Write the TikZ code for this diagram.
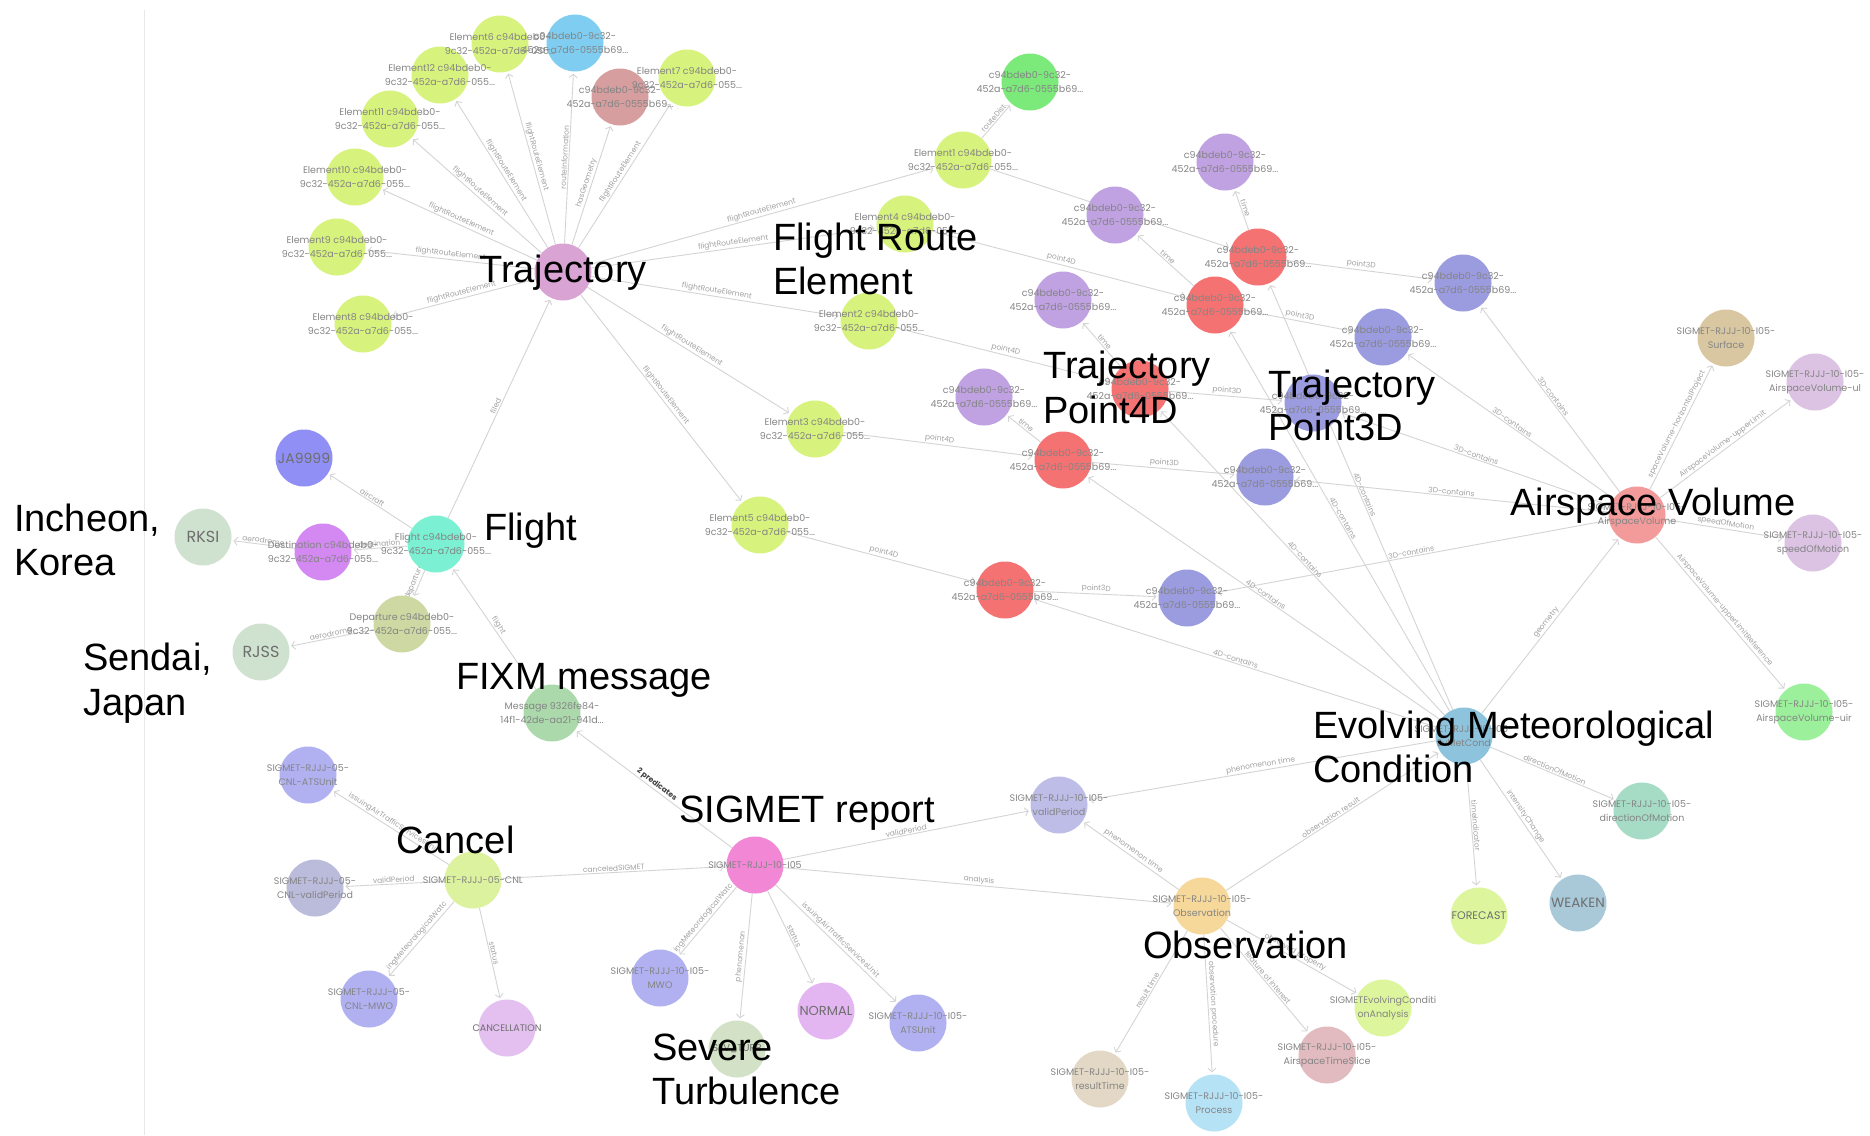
\documentclass[tikz,border=0pt]{standalone}
\usepackage{fontspec}
\setmainfont{Liberation Sans}
\newfontfamily\idfam{Poppins}
\usetikzlibrary{arrows.meta}
\pgfdeclarelayer{edges}
\pgfdeclarelayer{txt}
\pgfsetlayers{edges,main,txt}

% node fills
\definecolor{celem}{HTML}{D7F27D}
\definecolor{crinfo}{HTML}{7FCDF0}
\definecolor{cgeom}{HTML}{D69E9E}
\definecolor{ctraj}{HTML}{D9A3D3}
\definecolor{cgreen}{HTML}{7BEA7B}
\definecolor{cpurp}{HTML}{C0A2E2}
\definecolor{cred}{HTML}{F47272}
\definecolor{cblue}{HTML}{9B9BE0}
\definecolor{cav}{HTML}{F39B9B}
\definecolor{csurf}{HTML}{D9C7A1}
\definecolor{clilac}{HTML}{DCC3E4}
\definecolor{cuir}{HTML}{9CF09C}
\definecolor{cemc}{HTML}{8DC3DD}
\definecolor{cdom}{HTML}{A6DCC5}
\definecolor{cweak}{HTML}{A9C9D9}
\definecolor{cfore}{HTML}{DDF59C}
\definecolor{cobs}{HTML}{F6D89A}
\definecolor{cvp}{HTML}{BDBDE8}
\definecolor{csig}{HTML}{F187D5}
\definecolor{cmwo}{HTML}{B1B1F2}
\definecolor{csev}{HTML}{D3E2C6}
\definecolor{cnorm}{HTML}{E3B6F1}
\definecolor{ccnl}{HTML}{DDF29E}
\definecolor{ccvp}{HTML}{BBBBDB}
\definecolor{ccanc}{HTML}{E3C0F0}
\definecolor{cfixm}{HTML}{ACD9AC}
\definecolor{cflight}{HTML}{7BF0D3}
\definecolor{cja}{HTML}{8F8FF5}
\definecolor{cdest}{HTML}{D488F1}
\definecolor{cap}{HTML}{CFE2CF}
\definecolor{cdep}{HTML}{CED8A3}
\definecolor{crt}{HTML}{E2D8C5}
\definecolor{cproc}{HTML}{B6E2F6}
\definecolor{cslice}{HTML}{E2BBC0}
% strokes and small text
\definecolor{edgec}{HTML}{D4D4D4}
\definecolor{elc}{HTML}{A2A2A2}
\definecolor{idc}{HTML}{858585}
\definecolor{valc}{HTML}{6E6E6E}
\definecolor{framec}{HTML}{E8E8E8}

\newcommand\elfont{\fontsize{7.5}{8}\selectfont\idfam}

\tikzset{
  nd/.style={circle, minimum size=57pt, inner sep=0pt, draw=none},
  idt/.style={align=center, font=\fontsize{9.5}{13.5}\selectfont\idfam, text=idc, inner sep=0pt},
  val/.style={font=\fontsize{#1}{#1}\selectfont\idfam, text=valc, inner sep=0pt},
  ed/.style={draw=edgec, line width=0.9pt,
    -{Straight Barb[length=3.5pt,width=8pt,line width=0.9pt]}, shorten >=2pt},
  el/.style={sloped, above, inner sep=1pt, font=\elfont, text=elc},
  big/.style={anchor=base west, inner sep=0pt, font=\fontsize{38}{45}\selectfont, text=black},
}

% circle node with its caption on the text layer
\newcommand\gnode[5][idt]{%
  \node[nd, fill=#4] (#2) at (#3) {};
  \begin{pgfonlayer}{txt}\node[#1] (#2t) at (#2) {#5};\end{pgfonlayer}%
}

\begin{document}
\begin{tikzpicture}[x=1pt, y=-1pt]
\useasboundingbox (0,0) rectangle (1870,1135);
\begin{pgfonlayer}{edges}
  \fill[white] (0,0) rectangle (1870,1135);
  \draw[framec, line width=1pt] (144,10) -- (144,1135);
\end{pgfonlayer}

% ---- trajectory and its route elements
\gnode{tr}{563,272}{ctraj}{}
\gnode{e6}{500,44}{celem}{Element6 c94bdeb0-\\9c32-452a-a7d6-055...}
\gnode{rinfo}{575,43}{crinfo}{c94bdeb0-9c32-\\452a-a7d6-0555b69...}
\gnode{geom}{620,97}{cgeom}{c94bdeb0-9c32-\\452a-a7d6-0555b69...}
\gnode{e7}{687,78}{celem}{Element7 c94bdeb0-\\9c32-452a-a7d6-055...}
\gnode{e12}{440,75}{celem}{Element12 c94bdeb0-\\9c32-452a-a7d6-055...}
\gnode{e11}{390,119}{celem}{Element11 c94bdeb0-\\9c32-452a-a7d6-055...}
\gnode{e10}{355,177}{celem}{Element10 c94bdeb0-\\9c32-452a-a7d6-055...}
\gnode{e9}{337,247}{celem}{Element9 c94bdeb0-\\9c32-452a-a7d6-055...}
\gnode{e8}{363,324}{celem}{Element8 c94bdeb0-\\9c32-452a-a7d6-055...}
\gnode{gtop}{1030,82}{cgreen}{c94bdeb0-9c32-\\452a-a7d6-0555b69...}
\gnode{e1}{963,160}{celem}{Element1 c94bdeb0-\\9c32-452a-a7d6-055...}
\gnode{e4}{905,224}{celem}{Element4 c94bdeb0-\\9c32-452a-a7d6-055...}
\gnode{e2}{869,321}{celem}{Element2 c94bdeb0-\\9c32-452a-a7d6-055...}
\gnode{e3}{815,429}{celem}{Element3 c94bdeb0-\\9c32-452a-a7d6-055...}
\gnode{e5}{760,525}{celem}{Element5 c94bdeb0-\\9c32-452a-a7d6-055...}

% ---- time, 4D and 3D points
\gnode{pTR}{1225,162}{cpurp}{c94bdeb0-9c32-\\452a-a7d6-0555b69...}
\gnode{pA}{1115,215}{cpurp}{c94bdeb0-9c32-\\452a-a7d6-0555b69...}
\gnode{pB}{1063,300}{cpurp}{c94bdeb0-9c32-\\452a-a7d6-0555b69...}
\gnode{pC}{984,397}{cpurp}{c94bdeb0-9c32-\\452a-a7d6-0555b69...}
\gnode{rA}{1258,257}{cred}{c94bdeb0-9c32-\\452a-a7d6-0555b69...}
\gnode{rB}{1215,305}{cred}{c94bdeb0-9c32-\\452a-a7d6-0555b69...}
\gnode{rC}{1140,389}{cred}{c94bdeb0-9c32-\\452a-a7d6-0555b69...}
\gnode{rD}{1063,460}{cred}{c94bdeb0-9c32-\\452a-a7d6-0555b69...}
\gnode{rE}{1005,590}{cred}{c94bdeb0-9c32-\\452a-a7d6-0555b69...}
\gnode{bG}{1463,283}{cblue}{c94bdeb0-9c32-\\452a-a7d6-0555b69...}
\gnode{bH}{1383,337}{cblue}{c94bdeb0-9c32-\\452a-a7d6-0555b69...}
\gnode{bI}{1313,403}{cblue}{c94bdeb0-9c32-\\452a-a7d6-0555b69...}
\gnode{bE}{1265,477}{cblue}{c94bdeb0-9c32-\\452a-a7d6-0555b69...}
\gnode{bF}{1187,598}{cblue}{c94bdeb0-9c32-\\452a-a7d6-0555b69...}

% ---- airspace volume and met condition
\gnode{av}{1637,515}{cav}{SIGMET-RJJJ-10-I05-\\AirspaceVolume}
\gnode{surf}{1726,338}{csurf}{SIGMET-RJJJ-10-I05-\\Surface}
\gnode{ul}{1815,382}{clilac}{SIGMET-RJJJ-10-I05-\\AirspaceVolume-ul}
\gnode{sp}{1813,543}{clilac}{SIGMET-RJJJ-10-I05-\\speedOfMotion}
\gnode{uir}{1804,712}{cuir}{SIGMET-RJJJ-10-I05-\\AirspaceVolume-uir}
\gnode{emc}{1464,736}{cemc}{SIGMET-RJJJ-10-I05-\\EvMetCond}
\gnode{dom}{1642,811}{cdom}{SIGMET-RJJJ-10-I05-\\directionOfMotion}
\gnode[val=13.5]{wk}{1578,903}{cweak}{WEAKEN}
\gnode[val=11]{fc}{1479,916}{cfore}{FORECAST}
\gnode{obs}{1202,906}{cobs}{SIGMET-RJJJ-10-I05-\\Observation}
\gnode{vp}{1059,805}{cvp}{SIGMET-RJJJ-10-I05-\\validPeriod}
\gnode{rt}{1100,1079}{crt}{SIGMET-RJJJ-10-I05-\\resultTime}
\gnode{proc}{1214,1103}{cproc}{SIGMET-RJJJ-10-I05-\\Process}
\gnode{tslice}{1327,1055}{cslice}{SIGMET-RJJJ-10-I05-\\AirspaceTimeSlice}
\gnode{seca}{1383,1008}{cfore}{SIGMETEvolvingConditi\\onAnalysis}

% ---- SIGMET report and cancellation
\gnode{sig}{755,865}{csig}{SIGMET-RJJJ-10-I05}
\gnode{mwo}{660,978}{cmwo}{SIGMET-RJJJ-10-I05-\\MWO}
\gnode[val=10]{sev}{737,1049}{csev}{SEV\_TURB}
\gnode[val=13]{norm}{826,1011}{cnorm}{NORMAL}
\gnode{ats}{918,1023}{cmwo}{SIGMET-RJJJ-10-I05-\\ATSUnit}
\gnode{cnl}{473,880}{ccnl}{SIGMET-RJJJ-05-CNL}
\gnode{cats}{308,775}{cmwo}{SIGMET-RJJJ-05-\\CNL-ATSUnit}
\gnode{cvp}{315,888}{ccvp}{SIGMET-RJJJ-05-\\CNL-validPeriod}
\gnode{cmwo}{369,999}{cmwo}{SIGMET-RJJJ-05-\\CNL-MWO}
\gnode[val=9.5]{canc}{507,1028}{ccanc}{CANCELLATION}

% ---- FIXM flight
\gnode{fixm}{552,713}{cfixm}{Message 9326fe84-\\14f1-42de-aa21-941d...}
\gnode{fl}{436,544}{cflight}{Flight c94bdeb0-\\9c32-452a-a7d6-055...}
\gnode[val=14]{ja}{304,458}{cja}{JA9999}
\gnode{dest}{323,552}{cdest}{Destination c94bdeb0-\\9c32-452a-a7d6-055...}
\gnode[val=16]{rksi}{203,537}{cap}{RKSI}
\gnode{dep}{402,624}{cdep}{Departure c94bdeb0-\\9c32-452a-a7d6-055...}
\gnode[val=16]{rjss}{261,652}{cap}{RJSS}

% ---- connectors
\begin{pgfonlayer}{edges}
\draw[ed] (tr) -- node[el]{flightRouteElement} (e12);
\draw[ed] (tr) -- node[el]{flightRouteElement} (e6);
\draw[ed] (tr) -- node[el]{routeInformation} (rinfo);
\draw[ed] (tr) -- node[el]{hasGeometry} (geom);
\draw[ed] (tr) -- node[el]{flightRouteElement} (e7);
\draw[ed] (tr) -- node[el]{flightRouteElement} (e11);
\draw[ed] (tr) -- node[el]{flightRouteElement} (e10);
\draw[ed] (tr) -- node[el]{flightRouteElement} (e9);
\draw[ed] (tr) -- node[el]{flightRouteElement} (e8);
\draw[ed] (tr) -- node[el]{flightRouteElement} (e1);
\draw[ed] (tr) -- node[el]{flightRouteElement} (e4);
\draw[ed] (tr) -- node[el]{flightRouteElement} (e2);
\draw[ed] (tr) -- node[el]{flightRouteElement} (e3);
\draw[ed] (tr) -- node[el]{flightRouteElement} (e5);
\draw[ed] (e1) -- node[el]{routeDist} (gtop);

\draw[ed] (e1) -- (rA);
\draw[ed] (e4) -- node[el]{point4D} (rB);
\draw[ed] (e2) -- node[el]{point4D} (rC);
\draw[ed] (e3) -- node[el]{point4D} (rD);
\draw[ed] (e5) -- node[el]{point4D} (rE);

\draw[ed] (rA) -- node[el]{time} (pTR);
\draw[ed] (rB) -- node[el]{time} (pA);
\draw[ed] (rC) -- node[el]{time} (pB);
\draw[ed] (rD) -- node[el]{time} (pC);

\draw[ed] (rA) -- node[el]{point3D} (bG);
\draw[ed] (rB) -- node[el]{point3D} (bH);
\draw[ed] (rC) -- node[el]{point3D} (bI);
\draw[ed] (rD) -- node[el]{point3D} (bE);
\draw[ed] (rE) -- node[el]{point3D} (bF);

\draw[ed] (av) -- node[el]{3D-contains} (bG);
\draw[ed] (av) -- node[el]{3D-contains} (bH);
\draw[ed] (av) -- node[el]{3D-contains} (bI);
\draw[ed] (av) -- node[el]{3D-contains} (bE);
\draw[ed] (av) -- node[el]{3D-contains} (bF);

\draw[ed] (emc) -- node[el]{4D-contains} (rA);
\draw[ed] (emc) -- node[el]{4D-contains} (rB);
\draw[ed] (emc) -- node[el]{4D-contains} (rC);
\draw[ed] (emc) -- node[el]{4D-contains} (rD);
\draw[ed] (emc) -- node[el]{4D-contains} (rE);

\draw[ed] (av) -- node[el]{spaceVolume-horizontalProject} (surf);
\draw[ed] (av) -- node[el]{AirspaceVolume-upperLimit} (ul);
\draw[ed] (av) -- node[el]{speedOfMotion} (sp);
\draw[ed] (av) -- node[el]{AirspaceVolume-upperLimitReference} (uir);

\draw[ed] (emc) -- node[el]{geometry} (av);
\draw[ed] (emc) -- node[el]{directionOfMotion} (dom);
\draw[ed] (emc) -- node[el]{timeIndicator} (fc);
\draw[ed] (emc) -- node[el]{intensityChange} (wk);
\draw[ed] (emc) -- node[el]{phenomenon time} (vp);
\draw[ed] (obs) -- node[el]{observation result} (emc);
\draw[ed] (obs) -- node[el]{phenomenon time} (vp);
\draw[ed] (obs) -- node[el]{result time} (rt);
\draw[ed] (obs) -- node[el]{observation procedure} (proc);
\draw[ed] (obs) -- node[el]{feature of interest} (tslice);
\draw[ed] (obs) -- node[el]{observed property} (seca);

\draw[ed] (sig) -- node[el]{validPeriod} (vp);
\draw[ed] (sig) -- node[el]{analysis} (obs);
\draw[ed] (sig) -- node[el]{ingMeteorologicalWatc} (mwo);
\draw[ed] (sig) -- node[el]{phenomenon} (sev);
\draw[ed] (sig) -- node[el]{status} (norm);
\draw[ed] (sig) -- node[el]{issuingAirTrafficServicesUnit} (ats);
\draw[ed] (sig) -- node[el, text=black!75, font=\elfont\bfseries]{2 predicates} (fixm);

\draw[ed] (cnl) -- node[el]{canceledSIGMET} (sig);
\draw[ed] (cnl) -- node[el]{issuingAirTrafficServicesUnit} (cats);
\draw[ed] (cnl) -- node[el]{validPeriod} (cvp);
\draw[ed] (cnl) -- node[el]{ingMeteorologicalWatc} (cmwo);
\draw[ed] (cnl) -- node[el]{status} (canc);

\draw[ed] (fixm) -- node[el]{flight} (fl);
\draw[ed] (fl) -- node[el]{filed} (tr);
\draw[ed] (fl) -- node[el]{aircraft} (ja);
\draw[ed] (fl) -- node[el]{destination} (dest);
\draw[ed] (dest) -- node[el]{aerodrome} (rksi);
\draw[ed] (fl) -- node[el]{departure} (dep);
\draw[ed] (dep) -- node[el]{aerodrome} (rjss);
\end{pgfonlayer}

% ---- large captions
\begin{pgfonlayer}{txt}
\node[big] (lbtraj) at (479,282) {Trajectory};
\node[big] (lbfre1) at (773,250) {Flight Route};
\node[big] (lbfre2) at (773,294) {Element};
\node[big] (lbp4a) at (1043,378) {Trajectory};
\node[big] (lbp4b) at (1043,423) {Point4D};
\node[big] (lbp3a) at (1268,397) {Trajectory};
\node[big] (lbp3b) at (1268,440) {Point3D};
\node[big] (lbav) at (1510,515) {Airspace Volume};
\node[big] (lbfl) at (484,540) {Flight};
\node[big] (lbinc1) at (14,531) {Incheon,};
\node[big] (lbinc2) at (14,575) {Korea};
\node[big] (lbsen1) at (83,670) {Sendai,};
\node[big] (lbsen2) at (83,715) {Japan};
\node[big] (lbfixm) at (456,689) {FIXM message};
\node[big] (lbsig) at (679,822) {SIGMET report};
\node[big] (lbcnl) at (396,853) {Cancel};
\node[big] (lbsev1) at (652,1060) {Severe};
\node[big] (lbsev2) at (652,1104) {Turbulence};
\node[big] (lbemc1) at (1313,738) {Evolving Meteorological};
\node[big] (lbemc2) at (1313,782) {Condition};
\node[big] (lbobs) at (1143,958) {Observation};
\end{pgfonlayer}
\end{tikzpicture}
\end{document}
